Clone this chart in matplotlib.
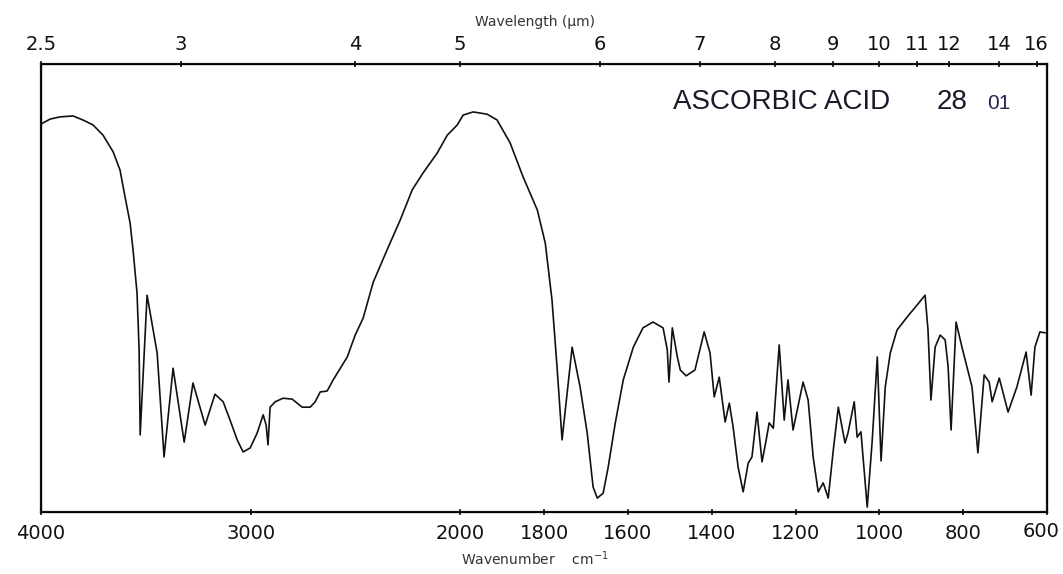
import numpy as np
import matplotlib.pyplot as plt

# IR spectrum of ascorbic acid
wavenumber = [4000, 3957, 3909, 3847, 3800, 3752, 3704, 3656, 3623, 3599,
              3575, 3561, 3542, 3532, 3527, 3494, 3446, 3413, 3370, 3317,
              3275, 3217, 3170, 3131, 3098, 3064, 3036, 3002, 2969, 2940,
              2926, 2917, 2907, 2883, 2845, 2802, 2754, 2716, 2692, 2668,
              2635, 2606, 2539, 2501, 2463, 2415, 2349, 2286, 2229, 2177,
              2110, 2062, 2014, 1993, 1969, 1936, 1912, 1881, 1850, 1816,
              1797, 1781, 1769, 1757, 1733, 1714, 1697, 1683, 1673, 1659,
              1647, 1630, 1611, 1587, 1564, 1540, 1516, 1506, 1502, 1494,
              1482, 1475, 1461, 1440, 1418, 1404, 1394, 1382, 1368, 1358,
              1349, 1337, 1325, 1313, 1304, 1292, 1280, 1270, 1263, 1253,
              1239, 1227, 1218, 1206, 1182, 1170, 1158, 1146, 1134, 1122,
              1110, 1098, 1082, 1075, 1060, 1053, 1044, 1029, 1017, 1005,
              996, 986, 974, 958, 934, 910, 891, 884, 877, 867,
              855, 843, 836, 829, 817, 803, 791, 779, 765, 750,
              738, 731, 714, 693, 672, 650, 638, 629, 617, 605]
transmittance = [86.6, 87.7, 88.2, 88.4, 87.5, 86.4, 84.1, 80.4, 76.3, 70.3,
                 64.5, 58.5, 48.9, 36.2, 17.2, 48.4, 35.5, 12.3, 32.1, 15.6,
                 28.8, 19.4, 26.3, 24.6, 20.5, 16.1, 13.4, 14.3, 17.6, 21.7,
                 19.4, 15.0, 23.4, 24.6, 25.4, 25.2, 23.4, 23.4, 24.6, 26.8,
                 27.0, 29.5, 34.6, 39.5, 43.3, 51.3, 58.5, 65.2, 71.9, 75.7,
                 80.1, 84.1, 86.4, 88.6, 89.3, 88.8, 87.5, 82.4, 74.8, 67.4,
                 60.0, 47.3, 32.4, 16.1, 36.8, 27.9, 17.6, 5.6, 3.1, 4.2,
                 10.0, 19.9, 29.5, 36.8, 41.1, 42.4, 41.1, 36.2, 29.0, 41.1,
                 34.6, 31.7, 30.4, 31.7, 40.2, 35.5, 25.7, 30.1, 20.1, 24.3,
                 19.0, 10.0, 4.5, 10.9, 12.3, 22.3, 11.2, 16.1, 19.9, 18.7,
                 37.3, 20.5, 29.5, 18.3, 29.0, 25.0, 12.3, 4.5, 6.5, 3.1,
                 13.8, 23.4, 15.4, 17.6, 24.6, 16.7, 17.9, 1.1, 16.1, 34.6,
                 11.4, 27.9, 35.5, 40.6, 43.5, 46.2, 48.4, 40.6, 25.0, 36.8,
                 39.5, 38.4, 32.4, 18.3, 42.4, 36.8, 32.4, 27.9, 13.2, 30.6,
                 29.0, 24.6, 29.9, 22.3, 27.9, 35.7, 26.1, 36.8, 40.2, 40.0]

wn_ticks = [4000, 3000, 2000, 1800, 1600, 1400, 1200, 1000, 800, 600]
wl_ticks = [2.5, 3, 4, 5, 6, 7, 8, 9, 10, 11, 12, 14, 16]
wl_labels = ['2.5', '3', '4', '5', '6', '7', '8', '9', '10', '11', '12', '14', '16']


# chart scale halves above 2000 cm-1
def fwd(w):
    w = np.asarray(w, dtype=float)
    return np.where(w >= 2000, 2000 + (w - 2000) * 0.5, w)


def inv(u):
    u = np.asarray(u, dtype=float)
    return np.where(u >= 2000, 2000 + (u - 2000) * 2.0, u)


fig = plt.figure(figsize=(10.63, 5.74), dpi=100)
ax = fig.add_axes([0.0386, 0.108, 0.9464, 0.7805])

ax.plot(wavenumber, transmittance, color='#111111', linewidth=1.2)
ax.set_xscale('function', functions=(fwd, inv))
ax.set_xlim(4000, 600)
ax.set_ylim(0, 100)
ax.set_yticks([])
ax.set_xticks(wn_ticks)
# last label (600) is placed by hand so it stays inside the image
ax.set_xticklabels([str(t) for t in wn_ticks[:-1]] + [''])
ax.tick_params(axis='x', direction='inout', length=5, width=1.2, pad=6,
               labelsize=14, colors='#111111')
ax.annotate(str(wn_ticks[-1]), xy=(wn_ticks[-1], 0),
            xycoords=('data', 'axes fraction'), xytext=(-4.5, -7.5),
            textcoords='offset points', ha='center', va='top',
            fontsize=14, color='#111111')
for s in ax.spines.values():
    s.set_linewidth(1.6)
    s.set_color('#111111')

ax2 = ax.twiny()
ax2.set_xscale('function', functions=(fwd, inv))
ax2.set_xlim(4000, 600)
ax2.set_xticks([10000 / w for w in wl_ticks])
ax2.set_xticklabels(wl_labels)
ax2.tick_params(axis='x', direction='inout', length=5, width=1.2, pad=5,
                labelsize=14, colors='#111111')
ax2.set_yticks([])

fig.text(0.503, 0.962, 'Wavelength (\u00b5m)', fontsize=10, ha='center',
         va='center', color='#333333')
fig.text(0.503, 0.011, 'Wavenumber    cm$^{-1}$', fontsize=10, ha='center',
         va='bottom', color='#333333')

fig.text(0.633, 0.822, 'ASCORBIC ACID', fontsize=20, family='Liberation Sans',
         ha='left', va='center', color='#1a1a2a')
fig.text(0.881, 0.822, '28', fontsize=20, family='Liberation Sans',
         ha='left', va='center', color='#1a1a2a')
fig.text(0.929, 0.820, '01', fontsize=15, family='Liberation Sans',
         ha='left', va='center', color='#2a2250')

fig.savefig('out.png', dpi=100)
